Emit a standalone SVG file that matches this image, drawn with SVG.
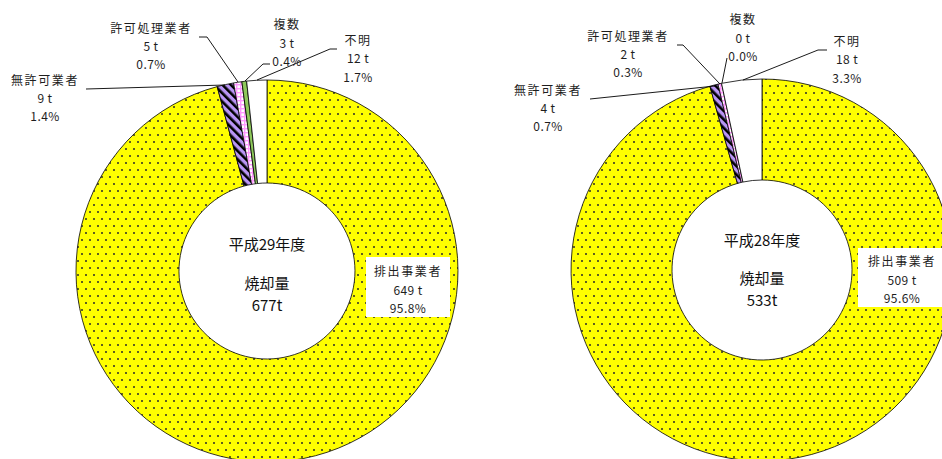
<svg xmlns="http://www.w3.org/2000/svg" width="942" height="459" viewBox="0 0 942 459">
<style>
.t{font-family:"Noto Sans CJK JP","Noto Sans",sans-serif;font-size:12px;fill:#1e1e1e;text-anchor:middle;dominant-baseline:central;letter-spacing:0.4px}
.j{letter-spacing:1.6px}
.c{font-family:"Noto Sans CJK JP","Noto Sans",sans-serif;font-size:15px;fill:#111;text-anchor:middle;dominant-baseline:central}
.s{stroke:#000;stroke-width:0.8;stroke-linejoin:round}
.ld{fill:none;stroke:#000;stroke-width:0.9}
</style>
<defs>
<pattern id="dots" patternUnits="userSpaceOnUse" width="8" height="14">
<rect width="8" height="14" fill="#FFFF00"/>
<circle cx="2" cy="2" r="1" fill="#2a2a2a"/>
<circle cx="6" cy="9" r="1" fill="#2a2a2a"/>
</pattern>
<pattern id="stripes" patternUnits="userSpaceOnUse" width="6" height="6" patternTransform="rotate(-45)">
<rect width="6" height="6" fill="#B995F5"/>
<rect width="2.6" height="6" fill="#000"/>
</pattern>
<pattern id="grid" patternUnits="userSpaceOnUse" width="4" height="4">
<rect width="4" height="4" fill="#fff"/>
<rect width="4" height="1.4" fill="#FF99FF"/>
<rect width="1.4" height="4" fill="#FF99FF"/>
</pattern>
</defs>

<!-- Left donut (H29) -->
<g id="left-haishutsu"><path class="s" fill="url(#dots)" d="M267 80 A191 191 0 1 1 217.17 86.61 L244.04 186.04 A88 88 0 1 0 267 183 Z"/></g>
<g id="left-mukyoka"><path class="s" fill="url(#stripes)" d="M217.17 86.61 A191 191 0 0 1 233.57 82.94 L251.60 184.36 A88 88 0 0 0 244.04 186.04 Z"/></g>
<g id="left-kyoka"><path class="s" fill="url(#grid)" d="M233.57 82.94 A191 191 0 0 1 241.87 81.66 L255.42 183.77 A88 88 0 0 0 251.60 184.36 Z"/></g>
<g id="left-fukusu"><path class="s" fill="#8DC75A" d="M241.87 81.66 A191 191 0 0 1 246.64 81.09 L257.62 183.50 A88 88 0 0 0 255.42 183.77 Z"/></g>
<g id="left-fumei"><path class="s" fill="#fff" d="M246.64 81.09 A191 191 0 0 1 267 80 L267 183 A88 88 0 0 0 257.62 183.50 Z"/></g>

<!-- Right donut (H28) -->
<g id="right-haishutsu"><path class="s" fill="url(#dots)" d="M762 79 A191 191 0 1 1 709.87 86.26 L737.44 183.42 A90 90 0 1 0 762 180 Z"/></g>
<g id="right-mukyoka"><path class="s" fill="url(#stripes)" d="M709.87 86.26 A191 191 0 0 1 717.99 84.14 L741.26 182.42 A90 90 0 0 0 737.44 183.42 Z"/></g>
<g id="right-kyoka"><path class="s" fill="url(#grid)" d="M717.99 84.14 A191 191 0 0 1 721.51 83.34 L742.92 182.04 A90 90 0 0 0 741.26 182.42 Z"/></g>
<g id="right-fumei"><path class="s" fill="#fff" d="M721.51 83.34 A191 191 0 0 1 762 79 L762 180 A90 90 0 0 0 742.92 182.04 Z"/></g>

<!-- Connectors -->
<g id="connectors">
<polyline class="ld" points="86,89 225,85"/>
<polyline class="ld" points="199,37 207,37 238,82"/>
<polyline class="ld" points="270,64 263,64 245,81"/>
<polyline class="ld" points="337,49 330,49 257,80"/>
<polyline class="ld" points="590,99 715,86"/>
<polyline class="ld" points="677,45 683,45 720,84"/>
<polyline class="ld" points="727,58 722,83"/>
<polyline class="ld" points="827,50 818,50 743,80"/>
</g>

<!-- Centre labels -->
<g id="left-center">
<text class="c" x="267" y="243">平成29年度</text>
<text class="c" x="267" y="282">焼却量</text>
<text class="c" x="267" y="304">677t</text>
</g>
<g id="right-center">
<text class="c" x="762" y="239">平成28年度</text>
<text class="c" x="762" y="277">焼却量</text>
<text class="c" x="762" y="299">533t</text>
</g>

<!-- Left labels -->
<g id="left-label-haishutsu">
<rect x="366" y="257" width="84" height="60" fill="#fff"/>
<text class="t j" x="408" y="270">排出事業者</text>
<text class="t" x="408" y="289">649 t</text>
<text class="t" x="408" y="307">95.8%</text>
</g>
<g id="left-label-mukyoka">
<text class="t j" x="45" y="79">無許可業者</text>
<text class="t" x="45" y="97">9 t</text>
<text class="t" x="45" y="115">1.4%</text>
</g>
<g id="left-label-kyoka">
<text class="t j" x="151" y="27">許可処理業者</text>
<text class="t" x="151" y="45">5 t</text>
<text class="t" x="151" y="63">0.7%</text>
</g>
<g id="left-label-fukusu">
<text class="t j" x="287" y="23">複数</text>
<text class="t" x="287" y="42">3 t</text>
<text class="t" x="287" y="60">0.4%</text>
</g>
<g id="left-label-fumei">
<text class="t j" x="358" y="39">不明</text>
<text class="t" x="358" y="57">12 t</text>
<text class="t" x="358" y="76">1.7%</text>
</g>

<!-- Right labels -->
<g id="right-label-haishutsu">
<rect x="858" y="248" width="86" height="59" fill="#fff"/>
<text class="t j" x="902" y="260">排出事業者</text>
<text class="t" x="902" y="279">509 t</text>
<text class="t" x="902" y="297">95.6%</text>
</g>
<g id="right-label-mukyoka">
<text class="t j" x="548" y="89">無許可業者</text>
<text class="t" x="548" y="107">4 t</text>
<text class="t" x="548" y="125">0.7%</text>
</g>
<g id="right-label-kyoka">
<text class="t j" x="628" y="35">許可処理業者</text>
<text class="t" x="628" y="53">2 t</text>
<text class="t" x="628" y="71">0.3%</text>
</g>
<g id="right-label-fukusu">
<text class="t j" x="743" y="18">複数</text>
<text class="t" x="743" y="37">0 t</text>
<text class="t" x="743" y="55">0.0%</text>
</g>
<g id="right-label-fumei">
<text class="t j" x="847" y="40">不明</text>
<text class="t" x="847" y="58">18 t</text>
<text class="t" x="847" y="77">3.3%</text>
</g>
</svg>
